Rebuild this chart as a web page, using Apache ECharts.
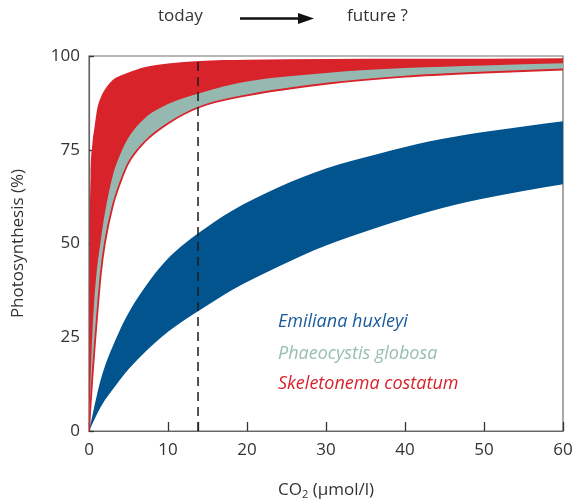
<!DOCTYPE html>
<html>
<head>
<meta charset="utf-8">
<script src="https://cdn.jsdelivr.net/npm/echarts@6/dist/echarts.min.js"></script>
<style>html,body{margin:0;padding:0;background:#fff}#c{width:576px;height:500px}</style>
</head>
<body>
<div id="c"></div>
<script>
// CO2 (µmol/l) sample positions and photosynthesis (%)
const co2Fast = [0, 0.05, 0.1, 0.2, 0.4, 0.7, 1, 1.5, 2, 3, 4, 5, 7, 10, 14, 20, 30, 40, 50, 60];
const skeletonemaUpper = [0, 30, 52, 68, 76, 81, 85.5, 89, 91, 93.6, 94.8, 95.6, 97, 98, 98.7, 99.0, 99.2, 99.3, 99.3, 99.4];
const skeletonemaLower = [0, 1.8, 3.5, 7, 13.5, 22, 30, 42, 50, 60, 66.5, 71.5, 77, 82, 86.4, 89.5, 92.6, 94.5, 95.6, 96.4];
const phaeocystisUpper = [0, 4, 7.5, 14, 25, 36, 43, 51, 58, 68, 74, 78.3, 83.3, 87.2, 90.1, 93.2, 95.5, 96.8, 97.5, 98.1];
const phaeocystisLower = [0, 1.8, 3.5, 7, 13.5, 22, 30, 42, 50, 60, 66.5, 71.5, 77, 82, 86.4, 89.5, 92.6, 94.5, 95.6, 96.4];

const co2Slow = [0, 1.5, 3.5, 5, 7.8, 10, 12, 14, 18, 24, 30, 36.8, 43, 49.5, 55, 60];
const emilianaUpper = [0, 13.8, 25, 31.5, 40.5, 46, 49.8, 53, 58.6, 65, 70, 74, 77.2, 79.6, 81.2, 82.6];
const emilianaLower = [0, 6.5, 12.5, 16.5, 22.5, 26.5, 29.5, 32.2, 37.5, 43.9, 49.5, 54.5, 58.5, 61.8, 64, 65.8];

const todayCO2 = 13.8;
const xTicks = [0, 10, 13.8, 20, 30, 40, 50, 60];
const xLabels = [0, 10, 20, 30, 40, 50, 60];
const yTicks = [0, 25, 50, 75, 100];

const RED = '#d8232b', TEAL = '#95b9b1', BLUE = '#02548f';
const FONT = 'Open Sans';

// monotone cubic (Fritsch–Carlson) bezier segments through pixel points
function segments(pts) {
  const n = pts.length, d = [], m = [];
  for (let i = 0; i < n - 1; i++) {
    const h = pts[i + 1][0] - pts[i][0];
    d.push(h === 0 ? 0 : (pts[i + 1][1] - pts[i][1]) / h);
  }
  m[0] = d[0]; m[n - 1] = d[n - 2];
  for (let i = 1; i < n - 1; i++) {
    m[i] = (d[i - 1] * d[i] <= 0) ? 0 : (d[i - 1] + d[i]) / 2;
  }
  for (let i = 0; i < n - 1; i++) {
    if (d[i] === 0) { m[i] = 0; m[i + 1] = 0; continue; }
    const a = m[i] / d[i], b = m[i + 1] / d[i], s = a * a + b * b;
    if (s > 9) { const t = 3 / Math.sqrt(s); m[i] = t * a * d[i]; m[i + 1] = t * b * d[i]; }
  }
  const segs = [];
  for (let i = 0; i < n - 1; i++) {
    const h = pts[i + 1][0] - pts[i][0];
    segs.push([pts[i], [pts[i][0] + h / 3, pts[i][1] + m[i] * h / 3],
               [pts[i + 1][0] - h / 3, pts[i + 1][1] - m[i + 1] * h / 3], pts[i + 1]]);
  }
  return segs;
}
const f = v => v.toFixed(2);
function curvePath(pts, move) {
  const segs = segments(pts);
  let s = (move ? 'M' : 'L') + f(pts[0][0]) + ' ' + f(pts[0][1]);
  segs.forEach(g => { s += ' C' + f(g[1][0]) + ' ' + f(g[1][1]) + ' ' + f(g[2][0]) + ' ' + f(g[2][1]) + ' ' + f(g[3][0]) + ' ' + f(g[3][1]); });
  return s;
}
function reversedPath(pts) {
  const segs = segments(pts).reverse();
  let s = 'L' + f(pts[pts.length - 1][0]) + ' ' + f(pts[pts.length - 1][1]);
  segs.forEach(g => { s += ' C' + f(g[2][0]) + ' ' + f(g[2][1]) + ' ' + f(g[1][0]) + ' ' + f(g[1][1]) + ' ' + f(g[0][0]) + ' ' + f(g[0][1]); });
  return s;
}

function bandSeries(name, xs, up, lo, color) {
  return {
    type: 'custom', name: name, silent: true, clip: true, data: [[0, 0]],
    renderItem: function (params, api) {
      const pu = xs.map((x, i) => api.coord([x, up[i]]));
      const pl = xs.map((x, i) => api.coord([x, lo[i]]));
      return { type: 'path', shape: { pathData: curvePath(pu, true) + ' ' + reversedPath(pl) + ' Z' },
               style: { fill: color, stroke: null } };
    }
  };
}
function lineSeries(name, xs, ys, color, width) {
  return {
    type: 'custom', name: name, silent: true, clip: true, data: [[0, 0]],
    renderItem: function (params, api) {
      const p = xs.map((x, i) => api.coord([x, ys[i]]));
      return { type: 'path', shape: { pathData: curvePath(p, true) },
               style: { fill: null, stroke: color, lineWidth: width } };
    }
  };
}

const chart = echarts.init(document.getElementById('c'), null, { renderer: 'canvas' });
chart.setOption({
  animation: false,
  grid: { left: 89, right: 13, top: 56, bottom: 69, show: true, borderColor: '#6e6e6e', borderWidth: 1.2,
          backgroundColor: 'transparent', containLabel: false, outerBoundsMode: 'none' },
  xAxis: {
    type: 'value', min: 0, max: 60, interval: 10,
    name: 'CO{sub|2} (µmol/l)', nameLocation: 'middle', nameGap: 50,
    nameTextStyle: { fontFamily: FONT, fontSize: 17, color: '#333',
      rich: { sub: { fontFamily: FONT, fontSize: 11, color: '#333', verticalAlign: 'bottom', padding: [8, 0, 0, 0] } } },
    axisLine: { show: true, lineStyle: { color: '#666', width: 1.2 } },
    axisTick: { show: true, inside: true, length: 9, customValues: xTicks, lineStyle: { color: '#333', width: 1.3 } },
    axisLabel: { customValues: xLabels, margin: 11, fontFamily: FONT, fontSize: 17, color: '#333' },
    splitLine: { show: false }
  },
  yAxis: {
    type: 'value', min: 0, max: 100, interval: 25,
    name: 'Photosynthesis (%)', nameLocation: 'middle', nameGap: 62,
    nameTextStyle: { fontFamily: FONT, fontSize: 17, color: '#333' },
    axisLine: { show: true, lineStyle: { color: '#666', width: 1.2 } },
    axisTick: { show: true, inside: true, length: 5, customValues: yTicks, lineStyle: { color: '#333', width: 1.3 } },
    axisLabel: { margin: 9, fontFamily: FONT, fontSize: 17, color: '#333' },
    splitLine: { show: false }
  },
  series: [
    bandSeries('Emiliana huxleyi', co2Slow, emilianaUpper, emilianaLower, BLUE),
    bandSeries('Skeletonema costatum', co2Fast, skeletonemaUpper, skeletonemaLower, RED),
    bandSeries('Phaeocystis globosa', co2Fast, phaeocystisUpper, phaeocystisLower, TEAL),
    lineSeries('Skeletonema lower edge', co2Fast, skeletonemaLower, RED, 1.8),
    {
      type: 'custom', name: 'today', silent: true, data: [[todayCO2, 0]],
      renderItem: function (params, api) {
        const a = api.coord([api.value(0), 0]), b = api.coord([api.value(0), 100]);
        return { type: 'line', shape: { x1: a[0], y1: a[1], x2: b[0], y2: b[1] },
                 style: { stroke: '#1a1a1a', lineWidth: 1.5, lineDash: [9, 6] } };
      }
    }
  ],
  graphic: [
    { type: 'text', left: 158, top: 8, style: { text: 'today', fontFamily: FONT, fontSize: 17, fill: '#333' } },
    { type: 'line', shape: { x1: 240, y1: 18.5, x2: 300, y2: 18.5 }, style: { stroke: '#111', lineWidth: 2.4 } },
    { type: 'polygon', shape: { points: [[298, 13], [314, 18.5], [298, 24]] }, style: { fill: '#111' } },
    { type: 'text', left: 347, top: 8, style: { text: 'future ?', fontFamily: FONT, fontSize: 17, fill: '#333' } },
    { type: 'text', left: 278, top: 313, z: 100, style: { text: 'Emiliana huxleyi', fontFamily: FONT, fontStyle: 'italic', fontSize: 18, fill: '#1b5b9b' } },
    { type: 'text', left: 278, top: 345, z: 100, style: { text: 'Phaeocystis globosa', fontFamily: FONT, fontStyle: 'italic', fontSize: 18, fill: '#97bdb4' } },
    { type: 'text', left: 278, top: 375, z: 100, style: { text: 'Skeletonema costatum', fontFamily: FONT, fontStyle: 'italic', fontSize: 18, fill: '#d9232c' } }
  ]
});
</script>
</body>
</html>
